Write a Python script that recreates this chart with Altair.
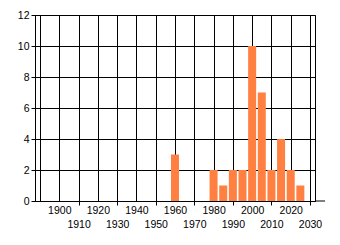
import altair as alt
import pandas as pd

years = [1960, 1980, 1985, 1990, 1995, 2000, 2005, 2010, 2015, 2020, 2025]
counts = [3, 2, 1, 2, 2, 10, 7, 2, 4, 2, 1]
x_ticks = list(range(1890, 2031, 10))
y_ticks = [0, 2, 4, 6, 8, 10, 12]

df = pd.DataFrame({"year": years, "count": counts})

FONT = "Liberation Sans"

bars = alt.Chart(df).mark_bar(size=8, color="#FF8040").encode(
    x=alt.X(
        "year:Q",
        scale=alt.Scale(domain=[1890, 2030], nice=False, zero=False),
        axis=alt.Axis(
            values=x_ticks,
            title=None,
            grid=True,
            gridColor="black",
            gridWidth=1,
            gridOpacity=1,
            domainColor="black",
            tickColor="black",
            tickSize=4,
            tickOpacity={"condition": {"test": "datum.value % 20 == 10 && datum.value > 1890", "value": 1}, "value": 0},
            labelExpr="datum.value == 1890 ? '' : (datum.value % 20 == 0 ? datum.label : ['', datum.label])",
            format="d",
            labelFont=FONT,
            labelFontSize=10.5,
            labelColor="black",
            labelPadding=0,
            labelLineHeight=14.5,
            labelFlush=False,
            labelOverlap=False,
            labelBound=False,
        ),
    ),
    y=alt.Y(
        "count:Q",
        scale=alt.Scale(domain=[0, 12], nice=False),
        axis=alt.Axis(
            values=y_ticks,
            title=None,
            grid=True,
            gridColor="black",
            gridWidth=1,
            gridOpacity=1,
            domainColor="black",
            tickColor="black",
            tickSize=4,
            labelFont=FONT,
            labelFontSize=10.5,
            labelColor="black",
            labelPadding=2,
            labelFlush=False,
            labelOverlap=False,
        ),
    ),
)

ext = alt.Chart(pd.DataFrame({"a": [0]})).mark_rule(color="black", strokeWidth=1).encode(
    x=alt.value(280), x2=alt.value(290), y=alt.value(186)
)

chart = alt.layer(bars, ext).properties(
    width=280,
    height=186,
    autosize=alt.AutoSizeParams(type="none"),
    padding={"left": 35, "top": 15, "right": 25, "bottom": 44},
    background="white",
).configure_view(stroke="black", strokeWidth=1)

chart.save("out.html", embed_options={"renderer": "svg", "actions": False})
